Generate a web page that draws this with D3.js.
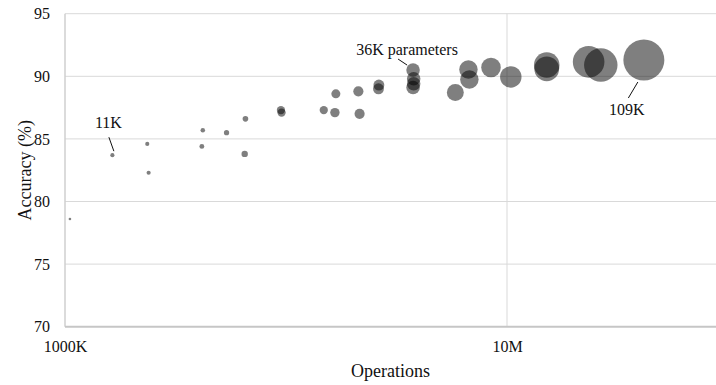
<!DOCTYPE html>
<html>
<head>
<meta charset="utf-8">
<script src="https://cdn.jsdelivr.net/npm/d3@7"></script>
<style>
  html, body { margin: 0; padding: 0; background: #fff; }
  svg { display: block; font-family: "Liberation Serif", "Times New Roman", serif; }
</style>
</head>
<body>
<svg id="chart" width="716" height="385"></svg>
<script>
// Operations (millions), accuracy (%) and parameter count (thousands) per model
const operations = [1.026, 1.28, 1.535, 1.546, 2.05, 2.04, 2.32, 2.56, 2.55,
  3.08, 3.09, 3.85, 4.10, 4.08, 4.61, 4.64, 5.13, 5.12,
  6.13, 6.15, 6.15, 6.13, 7.64, 8.18, 8.22, 9.2, 10.2,
  12.3, 12.3, 15.3, 16.3, 20.4];
const accuracy = [78.6, 83.7, 84.6, 82.3, 85.7, 84.4, 85.5, 86.6, 83.8,
  87.3, 87.1, 87.3, 88.6, 87.1, 88.8, 87.0, 89.3, 89.0,
  90.5, 89.8, 89.4, 89.1, 88.7, 90.55, 89.75, 90.7, 89.95,
  90.9, 90.6, 91.15, 90.9, 91.3];
const paramsK = [7, 11, 11, 11, 12, 13, 14, 15, 17,
  22, 22, 22, 24, 25, 27, 27, 29, 29,
  36, 36, 36, 36, 45, 49, 49, 52, 57,
  68, 66, 84, 89, 109];

const yTicks = [70, 75, 80, 85, 90, 95];
const xTicks = [1e6, 1e7];
const xTickLabels = ["1000K", "10M"];

// Annotated bubbles: index into the arrays above and the label text
const callouts = [
  { i: 1,  text: "11K" },
  { i: 18, text: "36K parameters" },
  { i: 31, text: "109K" }
];

(function () {
  const serif = "Liberation Serif, Times New Roman, serif";
  const svg = d3.select("#chart");
  const W = 716;
  const plotL = 65, plotT = 13.7, plotB = 326.7, decade = 442;

  const x = d3.scaleLog().domain([1e6, 1e8]).range([plotL, plotL + 2 * decade]);
  const y = d3.scaleLinear().domain([70, 95]).range([plotB, plotT]);
  // bubble width grows with the parameter count
  const r = d3.scaleLinear().domain([0, 109]).range([0, 20.5]);

  const data = operations.map((o, i) => ({ ops: o * 1e6, acc: accuracy[i], p: paramsK[i] }));

  // horizontal gridlines
  svg.append("g").selectAll("line").data(yTicks.filter(t => t > 70)).join("line")
    .attr("x1", plotL).attr("x2", W)
    .attr("y1", d => y(d)).attr("y2", d => y(d))
    .attr("stroke", "#d9d9d9").attr("stroke-width", 1);

  // vertical gridline at each decade past the first
  svg.append("g").selectAll("line").data(xTicks.slice(1)).join("line")
    .attr("x1", d => x(d)).attr("x2", d => x(d))
    .attr("y1", plotT).attr("y2", plotB)
    .attr("stroke", "#d9d9d9").attr("stroke-width", 1);

  // axis lines
  svg.append("line").attr("x1", plotL).attr("x2", plotL).attr("y1", plotT).attr("y2", plotB)
    .attr("stroke", "#cfcfcf").attr("stroke-width", 1.5);
  svg.append("line").attr("x1", plotL).attr("x2", W).attr("y1", plotB).attr("y2", plotB)
    .attr("stroke", "#c6c6c6").attr("stroke-width", 2);

  // tick labels via d3 axes with lines hidden
  const yAxis = svg.append("g").attr("transform", `translate(${plotL},0)`)
    .call(d3.axisLeft(y).tickValues(yTicks).tickSize(0).tickPadding(15));
  const xAxis = svg.append("g").attr("transform", `translate(0,${plotB})`)
    .call(d3.axisBottom(x).tickValues(xTicks).tickFormat((d, i) => xTickLabels[i]).tickSize(0).tickPadding(14));
  [yAxis, xAxis].forEach(g => {
    g.select(".domain").remove();
    g.attr("font-family", serif);
    g.selectAll("text").attr("font-family", serif)
      .attr("font-size", 16).attr("fill", "#111");
  });

  // bubbles
  svg.append("g").selectAll("circle").data(data).join("circle")
    .attr("cx", d => x(d.ops)).attr("cy", d => y(d.acc)).attr("r", d => r(d.p))
    .attr("fill", "#000").attr("fill-opacity", 0.5);

  // callout labels with leader lines
  const lab = svg.append("g").attr("font-family", serif).attr("font-size", 16).attr("fill", "#111");
  function callout(c, dx1, dy1, dx2, dy2, tx, ty) {
    const d = data[c.i];
    const cx = x(d.ops), cy = y(d.acc);
    lab.append("line")
      .attr("x1", cx + dx1).attr("y1", cy + dy1)
      .attr("x2", cx + dx2).attr("y2", cy + dy2)
      .attr("stroke", "#111").attr("stroke-width", 1);
    lab.append("text").attr("x", cx + tx).attr("y", cy + ty)
      .attr("text-anchor", "middle").text(c.text);
  }
  callout(callouts[0], -3.5, -18, 1.5, -4, -4, -27);
  callout(callouts[1], -15, -11, -6, -5, -6, -15);
  callout(callouts[2], -6, 22, -15.5, 38, -17, 55);

  // axis titles
  svg.append("text").attr("x", (plotL + W) / 2).attr("y", 377)
    .attr("text-anchor", "middle").attr("font-family", serif).attr("font-size", 18).attr("fill", "#111")
    .text("Operations");
  svg.append("text").attr("transform", `translate(31,${(plotT + plotB) / 2}) rotate(-90)`)
    .attr("text-anchor", "middle").attr("font-family", serif).attr("font-size", 18).attr("fill", "#111")
    .text("Accuracy (%)");
})();
</script>
</body>
</html>
